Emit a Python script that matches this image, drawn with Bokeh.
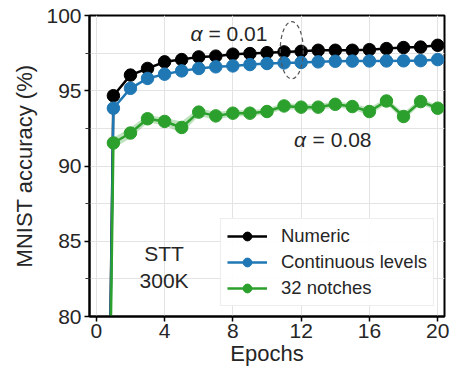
from bokeh.plotting import figure
from bokeh.models import FixedTicker, Legend, LegendItem, ColumnDataSource
from bokeh.core.properties import value
from bokeh.embed import file_html
from bokeh.resources import INLINE

epochs = list(range(0, 21))
numeric = [10.0, 94.67, 96.04, 96.48, 96.92, 97.07, 97.25, 97.30, 97.43, 97.47, 97.53,
           97.58, 97.62, 97.69, 97.69, 97.69, 97.73, 97.80, 97.87, 97.90, 98.02]
continuous = [10.0, 93.84, 95.16, 95.82, 96.10, 96.32, 96.48, 96.59, 96.65, 96.74, 96.81,
              96.85, 96.88, 96.92, 96.96, 96.97, 96.98, 96.98, 96.99, 97.00, 97.07]
notches = [10.0, 91.53, 92.19, 93.14, 92.96, 92.56, 93.58, 93.33, 93.51, 93.51, 93.62,
           93.99, 93.91, 93.91, 94.10, 93.95, 93.62, 94.32, 93.29, 94.28, 93.84]
notches_std = [0.0, 0.35, 0.35, 0.25, 0.25, 0.40, 0.25, 0.25, 0.20, 0.20, 0.20,
               0.20, 0.20, 0.20, 0.20, 0.20, 0.25, 0.20, 0.25, 0.20, 0.20]
y_ticks = [80, 85, 90, 95, 100]
y_minor = [82.5, 87.5, 92.5, 97.5]
x_ticks = [0, 4, 8, 12, 16, 20]

FONT = "Liberation Sans"
TXT = "#262626"
BLACK = "#000000"
BLUE = "#1f77b4"
GREEN = "#2ca02c"

p = figure(frame_width=355, frame_height=301, x_range=(-0.4, 20.4), y_range=(80, 100),
           output_backend="svg", toolbar_location=None,
           min_border_left=89, min_border_right=8, min_border_top=15, min_border_bottom=10)

p.outline_line_color = "black"
p.outline_line_width = 2
p.background_fill_color = "white"

p.yaxis.ticker = FixedTicker(ticks=y_ticks, minor_ticks=y_minor)
p.xaxis.ticker = FixedTicker(ticks=x_ticks, minor_ticks=[])
for ax in (p.xaxis[0], p.yaxis[0]):
    ax.axis_line_width = 2
    ax.axis_line_color = "black"
    ax.major_tick_line_width = 1.5
    ax.major_tick_line_color = "black"
    ax.major_tick_out = 5
    ax.major_tick_in = 0
    ax.minor_tick_out = 4
    ax.minor_tick_in = 0
    ax.minor_tick_line_color = "#333333"
    ax.major_label_text_font = FONT
    ax.major_label_text_font_size = "21px"
    ax.major_label_text_color = TXT
    ax.axis_label_text_font = FONT
    ax.axis_label_text_font_size = "22px"
    ax.axis_label_text_font_style = "normal"
    ax.axis_label_text_color = TXT
p.xaxis.minor_tick_line_color = None
p.xaxis.axis_label = "Epochs"
p.yaxis.axis_label = "MNIST accuracy (%)"
p.xaxis.axis_label_standoff = 0
p.yaxis.axis_label_standoff = 6
p.xaxis.major_label_standoff = 2
p.yaxis.major_label_standoff = 3

p.xgrid.grid_line_color = "#e3e3e3"
p.ygrid.grid_line_color = "#e3e3e3"
p.ygrid.minor_grid_line_color = "#e3e3e3"

lo = [m - s for m, s in zip(notches, notches_std)]
hi = [m + s for m, s in zip(notches, notches_std)]
p.varea(x=epochs, y1=lo, y2=hi, fill_color=GREEN, fill_alpha=0.3)

items = []
for name, ys, col in (("Numeric", numeric, BLACK),
                      ("Continuous levels", continuous, BLUE),
                      ("32 notches", notches, GREEN)):
    src = ColumnDataSource(dict(x=epochs, y=ys))
    ln = p.line("x", "y", source=src, line_color=col, line_width=2.5)
    sc = p.scatter("x", "y", source=src, size=12.5, fill_color=col, line_color=col)
    items.append(LegendItem(label=name, renderers=[ln, sc]))

p.ellipse(x=[11.45], y=[97.69], width=1.35, height=3.8, fill_color=None,
          line_color="#555555", line_dash="4 3", line_width=1.2)

p.text(x=[5.87], y=[98.81], text=["α"], text_font=value(FONT), text_font_size="21px",
       text_font_style="italic", text_align="center", text_baseline="middle", text_color=TXT)
p.text(x=[6.57], y=[98.81], text=["= 0.01"], text_font=value(FONT), text_font_size="21px",
       text_align="left", text_baseline="middle", text_color=TXT)
p.text(x=[11.94], y=[91.75], text=["α"], text_font=value(FONT), text_font_size="21px",
       text_font_style="italic", text_align="center", text_baseline="middle", text_color=TXT)
p.text(x=[12.67], y=[91.75], text=["= 0.08"], text_font=value(FONT), text_font_size="21px",
       text_align="left", text_baseline="middle", text_color=TXT)
p.text(x=[3.97, 3.97], y=[84.16, 82.4], text=["STT", "300K"], text_font=value(FONT),
       text_font_size="21px", text_align="center", text_baseline="middle", text_color=TXT)

legend = Legend(items=items, location="bottom_right")
legend.label_text_font = FONT
legend.label_text_font_size = "18.5px"
legend.label_text_color = TXT
legend.glyph_width = 40
legend.glyph_height = 22
legend.label_height = 22
legend.label_standoff = 14
legend.spacing = 4
legend.padding = 6
legend.margin = 10
legend.border_line_color = "#dddddd"
legend.border_line_width = 1
legend.background_fill_alpha = 0.9
p.add_layout(legend)

open("out.html", "w").write(file_html(p, INLINE))
